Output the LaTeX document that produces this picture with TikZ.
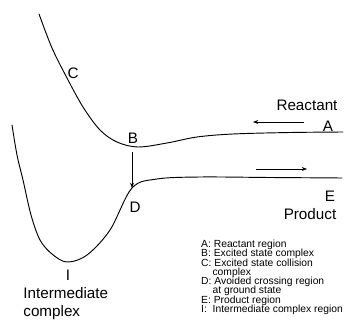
\documentclass[tikz,border=0pt]{standalone}
\usepackage{fontspec}
\setmainfont{Liberation Sans}
\usetikzlibrary{arrows.meta, positioning}

\begin{document}
\lineskiplimit=-5pt
\begin{tikzpicture}[x=0.03cm, y=-0.03cm,
  curve/.style={thick, line cap=round},
  arr/.style={-{Stealth[length=1.6mm, width=1.2mm]}, semithick},
  lbl/.style={font=\fontsize{13}{15}\selectfont, inner sep=1pt},
  legend/.style={font=\fontsize{8.8}{7.9}\selectfont,
    align=left, anchor=north west, inner sep=0pt}
]
  \useasboundingbox (0,0) rectangle (356,336);

  % upper surface (excited state)
  \draw[curve] plot[smooth, tension=0.55] coordinates {
    (39,14) (52,48) (67,78) (83,107) (100,130) (117,142) (138,147)
    (167,143) (197,137) (233,134) (290,132.5) (343,132)};
  % lower surface (ground state)
  \draw[curve] plot[smooth, tension=0.55] coordinates {
    (12,125) (17,155) (23,180) (31,215) (40,240) (52,254) (67,262)
    (87,255) (110,230) (132,188) (157,179) (200,177) (270,177.5) (342,178)};

  % points on the surfaces
  \coordinate (bTop) at (132,152);
  \coordinate (dBot) at (132,188);
  \draw[arr] (bTop) -- (dBot);

  \coordinate (rStart) at (304,122);
  \coordinate (rEnd) at (253,122);
  \draw[arr] (rStart) -- (rEnd);
  \coordinate (pStart) at (256,169);
  \coordinate (pEnd) at (307,169);
  \draw[arr] (pStart) -- (pEnd);

  % labels
  \node[lbl] (C) at (73,73) {C};
  \node[lbl] (B) at (133,138) {B};
  \node[lbl] (D) at (135,207) {D};
  \node[lbl] (A) at (328,126) {A};
  \node[lbl] (E) at (330,196) {E};
  \node[lbl] (react) at (307,105) {Reactant};
  \node[lbl] (prod) at (310,214) {Product};
  \node[lbl] (I) at (68,275) {I};
  \node[lbl, align=left, anchor=north west] (inter) at (22,286)
    {Intermediate\\complex};

  % legend
  \node[legend] (key) at (201,240) {%
    A: Reactant region\\
    B: Excited state complex\\
    C: Excited state collision\\
    \hspace*{1.1em}complex\\
    D: Avoided crossing region\\
    \hspace*{1.1em}at ground state\\
    E: Product region\\
    I: \ Intermediate complex region};
\end{tikzpicture}
\end{document}
